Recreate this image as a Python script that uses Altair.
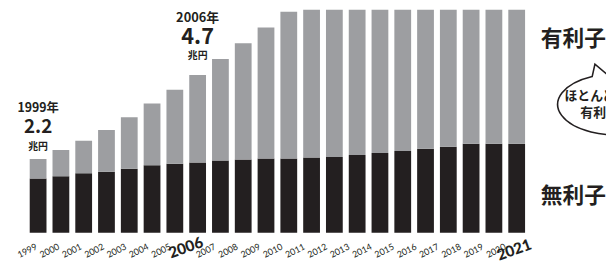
import altair as alt
import pandas as pd

# ---- data (兆円) ----
bar_years = ["1999", "2000", "2001", "2002", "2003", "2004", "2005", "2006",
             "2007", "2008", "2009", "2010", "2011", "2012", "2013", "2014",
             "2015", "2016", "2017", "2018", "2019", "2020"]
muri = [1.62, 1.68, 1.77, 1.82, 1.91, 2.01, 2.06, 2.09, 2.15, 2.18, 2.21,
        2.21, 2.24, 2.26, 2.32, 2.38, 2.44, 2.50, 2.56, 2.65, 2.65, 2.65]   # 無利子
total = [2.2, 2.47, 2.74, 3.06, 3.44, 3.85, 4.26, 4.7, 5.18, 5.65, 6.12,
         6.59, 7.0, 7.4, 7.7, 8.0, 8.2, 8.4, 8.6, 8.7, 8.8, 8.9]           # 無利子+有利子

label_years = [1999, 2000, 2001, 2002, 2003, 2004, 2005, 2006, 2007, 2008,
               2009, 2010, 2011, 2012, 2013, 2014, 2015, 2016, 2017, 2018,
               2019, 2020, 2021]
bold_years = [2006, 2021]

ann_years = ["1999", "2006"]
ann_values = ["2.2", "4.7"]
side_labels = ["有利子", "無利子"]
bubble_lines = ["ほとんどが", "有利子"]

INK = "#231f20"
GRAY = "#9d9ea1"
JP = "Noto Sans CJK JP"

bars = pd.DataFrame({"year": bar_years, "muri": muri, "total": total})
labels = pd.DataFrame({
    "year": label_years,
    "label": [str(y) for y in label_years],
    "bold": [y in bold_years for y in label_years],
})

xb = alt.X("year:N", sort=bar_years,
           scale=alt.Scale(paddingInner=0.264, paddingOuter=0.087), axis=None)
yscale = alt.Scale(domain=[0, 6.65], nice=False, zero=True)

black = alt.Chart(bars).mark_bar(color=INK).encode(
    x=xb, y=alt.Y("muri:Q", scale=yscale, axis=None))
gray = alt.Chart(bars).mark_bar(color=GRAY, clip=True).encode(
    x=xb, y=alt.Y("muri:Q", scale=yscale, axis=None), y2="total:Q")


def ann(year, text, ypx, size, weight="bold"):
    df = pd.DataFrame({"year": [year], "t": [text]})
    return alt.Chart(df).mark_text(
        font=JP, fontSize=size, fontWeight=weight, color=INK,
        align="center", baseline="alphabetic"
    ).encode(x=xb, y=alt.value(ypx), text="t:N")


annots = [
    ann(ann_years[0], ann_years[0] + "年", 104, 12.5),
    ann(ann_years[0], ann_values[0], 125, 19),
    ann(ann_years[0], "兆円", 142, 10),
    ann(ann_years[1], ann_years[1] + "年", 12, 13),
    ann(ann_years[1], ann_values[1], 35, 22),
    ann(ann_years[1], "兆円", 50, 10),
]

bar_group = alt.layer(black, gray, *annots)

lab_x = alt.X("year:Q", scale=alt.Scale(domain=[1999, 2020], range=[7, 482]),
              axis=None)
reg = alt.Chart(labels).transform_filter("!datum.bold").mark_text(
    align="right", baseline="top", font="Lato", fontSize=9, color=INK,
    angle=333
).encode(x=lab_x, y=alt.value(236), text="label:N")


def bold_label(year, dx):
    return alt.Chart(labels).transform_filter(alt.datum.year == year).mark_text(
        align="right", baseline="top", font="Lato", fontSize=15.5,
        fontWeight=900, color=INK, dx=dx, angle=340
    ).encode(x=lab_x, y=alt.value(232), text="label:N")


bold1 = bold_label(bold_years[0], 10)
bold2 = bold_label(bold_years[1], 3)

side_df = pd.DataFrame({"t": side_labels})
side_top = alt.Chart(side_df).transform_filter(
    alt.datum.t == side_labels[0]).mark_text(
    font=JP, fontSize=22, fontWeight="bold", color=INK, align="left",
    baseline="middle").encode(x=alt.value(520), y=alt.value(29.5), text="t:N")
side_bot = alt.Chart(side_df).transform_filter(
    alt.datum.t == side_labels[1]).mark_text(
    font=JP, fontSize=22, fontWeight="bold", color=INK, align="left",
    baseline="middle").encode(x=alt.value(520), y=alt.value(188.5), text="t:N")

bubble_path = ("M -0.417 -0.47 L -0.37 -0.68 L -0.167 -0.51 "
               "A 1 0.517 0 1 1 -0.417 -0.47 Z")
bubble = alt.Chart(pd.DataFrame({"k": [1]})).mark_point(
    shape=bubble_path, size=14400, filled=True, fill="white", stroke=INK,
    strokeWidth=1.6, opacity=1, fillOpacity=1, strokeOpacity=1
).encode(x=alt.value(597), y=alt.value(96))

bl_df = pd.DataFrame({"t": bubble_lines})
bub1 = alt.Chart(bl_df).transform_filter(alt.datum.t == bubble_lines[0]).mark_text(
    font=JP, fontSize=13, fontWeight="bold", color=INK, align="left",
    baseline="alphabetic").encode(x=alt.value(544), y=alt.value(92), text="t:N")
bub2 = alt.Chart(bl_df).transform_filter(alt.datum.t == bubble_lines[1]).mark_text(
    font=JP, fontSize=13, fontWeight="bold", color=INK, align="left",
    baseline="alphabetic").encode(x=alt.value(560), y=alt.value(109), text="t:N")

lab_group = alt.layer(reg, bold1, bold2, side_top, side_bot, bubble, bub1, bub2)

chart = alt.layer(bar_group, lab_group).resolve_scale(x="independent").properties(
    width=506, height=226,
    padding={"left": 20, "top": 0, "right": 80, "bottom": 31},
    autosize="none", background="white"
).configure_view(stroke=None)

chart.save("out.html", embed_options={"renderer": "svg", "actions": False})
